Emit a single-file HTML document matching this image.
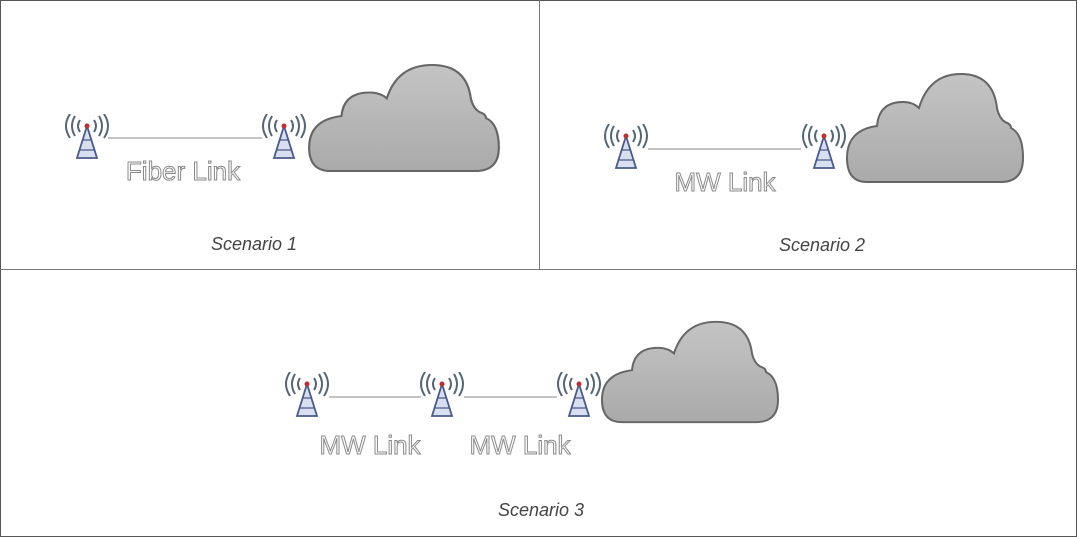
<!DOCTYPE html>
<html><head><meta charset="utf-8"><style>
html,body{margin:0;padding:0;background:#fff;}
body{width:1077px;height:537px;position:relative;overflow:hidden;font-family:"Liberation Sans",sans-serif;}
.t{position:absolute;color:#fff;-webkit-text-stroke:1px #8a8a8a;font-size:26px;white-space:nowrap;transform:translateX(-50%);}
.s{position:absolute;color:#444;font-style:italic;font-size:18px;white-space:nowrap;transform:translateX(-50%);}
svg{position:absolute;left:0;top:0;}
</style></head><body>
<svg width="1077" height="537" viewBox="0 0 1077 537">
<defs>
<linearGradient id="g" x1="0" y1="0" x2="0" y2="1">
<stop offset="0" stop-color="#c4c4c4"/><stop offset="1" stop-color="#aaa"/></linearGradient>
<symbol id="cloud" viewBox="0 0 180 112" preserveAspectRatio="none">
<path d="M22,110 Q2,110 2,86 Q2,58 32,54 Q34,30 58,30 Q68,30 74,36 Q84,2 116,2 Q148,2 152,36 Q154,46 160,50 Q166,52 166,56 Q178,62 178,86 Q178,110 156,110 Z" fill="url(#g)" stroke="#666" stroke-width="2"/>
</symbol>
<symbol id="tw" viewBox="0 0 44 46">
<g fill="none" stroke="#556677" stroke-width="2">
<path d="M15,6 Q11,12 15,18"/><path d="M10,2 Q4,12 10,22"/><path d="M5,0 Q-3,12 5,24"/>
<path d="M29,6 Q33,12 29,18"/><path d="M34,2 Q40,12 34,22"/><path d="M39,0 Q47,12 39,24"/>
</g>
<path d="M22,12 L12,44 L32,44 Z" fill="#d8dff0" stroke="#4a5a8a" stroke-width="1.8"/>
<path d="M18,26 L26,26 M15,36 L29,36" stroke="#4a5a8a" stroke-width="1.2"/>
<circle cx="22" cy="12" r="2.5" fill="#c03030"/>
</symbol>
</defs>
<rect x="0.5" y="0.5" width="1076" height="536" fill="none" stroke="#555" stroke-width="1"/>
<line x1="0" y1="269.5" x2="1077" y2="269.5" stroke="#777"/>
<line x1="539.5" y1="0" x2="539.5" y2="269" stroke="#777"/>
<use href="#cloud" x="307" y="63" width="194" height="110"/>
<use href="#tw" x="65" y="114" width="44" height="46"/>
<use href="#tw" x="262" y="114" width="44" height="46"/>
<line x1="108" y1="138" x2="262" y2="138" stroke="#888"/>
<use href="#cloud" x="845" y="72" width="180" height="112"/>
<use href="#tw" x="604" y="124" width="44" height="46"/>
<use href="#tw" x="802" y="124" width="44" height="46"/>
<line x1="648" y1="149" x2="801" y2="149" stroke="#888"/>
<use href="#cloud" x="600" y="320" width="180" height="104"/>
<use href="#tw" x="285" y="372" width="44" height="46"/>
<use href="#tw" x="420" y="372" width="44" height="46"/>
<use href="#tw" x="557" y="372" width="44" height="46"/>
<line x1="329" y1="397" x2="421" y2="397" stroke="#888"/>
<line x1="464" y1="397" x2="557" y2="397" stroke="#888"/>
</svg>
<div class="t" style="left:183px;top:156px;">Fiber Link</div>
<div class="s" style="left:254px;top:234px;">Scenario 1</div>
<div class="t" style="left:725px;top:167px;">MW Link</div>
<div class="s" style="left:822px;top:235px;">Scenario 2</div>
<div class="t" style="left:370px;top:430px;">MW Link</div>
<div class="t" style="left:520px;top:430px;">MW Link</div>
<div class="s" style="left:541px;top:500px;">Scenario 3</div>
</body></html>
